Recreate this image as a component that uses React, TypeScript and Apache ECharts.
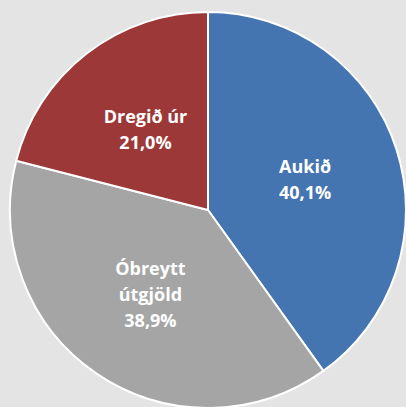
import React, { useEffect, useRef } from "react";
import * as echarts from "echarts";

const categories = ["Aukið", "Óbreytt útgjöld", "Dregið úr"];
const labelTexts = ["Aukið", "Óbreytt\nútgjöld", "Dregið úr"];
const values = [40.1, 38.9, 21.0];
const colors = ["#4575b0", "#a5a5a5", "#9c3837"];

export default function App() {
  const ref = useRef<HTMLDivElement>(null);
  useEffect(() => {
    if (!ref.current) return;
    const chart = echarts.init(ref.current, null, { renderer: "svg" });
    chart.setOption({
      animation: false,
      backgroundColor: "#e4e4e4",
      series: [
        {
          type: "pie",
          center: [208, 210],
          radius: 198,
          startAngle: 90,
          clockwise: true,
          data: categories.map((c, i) => ({
            name: c,
            value: values[i],
            itemStyle: { color: colors[i] },
          })),
          itemStyle: { borderColor: "#ffffff", borderWidth: 2 },
          label: {
            show: true,
            position: "inside",
            color: "#ffffff",
            fontFamily: "Open Sans",
            fontWeight: "bold",
            fontSize: 18,
            lineHeight: 26,
            formatter: (p: any) =>
              labelTexts[p.dataIndex] + "\n" + values[p.dataIndex].toFixed(1).replace(".", ",") + "%",
          },
          labelLine: { show: false },
          emphasis: { disabled: true },
        },
      ],
    });
    return () => chart.dispose();
  }, []);
  return (
    <div
      ref={ref}
      style={{ position: "fixed", left: 0, top: 0, width: 406, height: 407 }}
    />
  );
}
